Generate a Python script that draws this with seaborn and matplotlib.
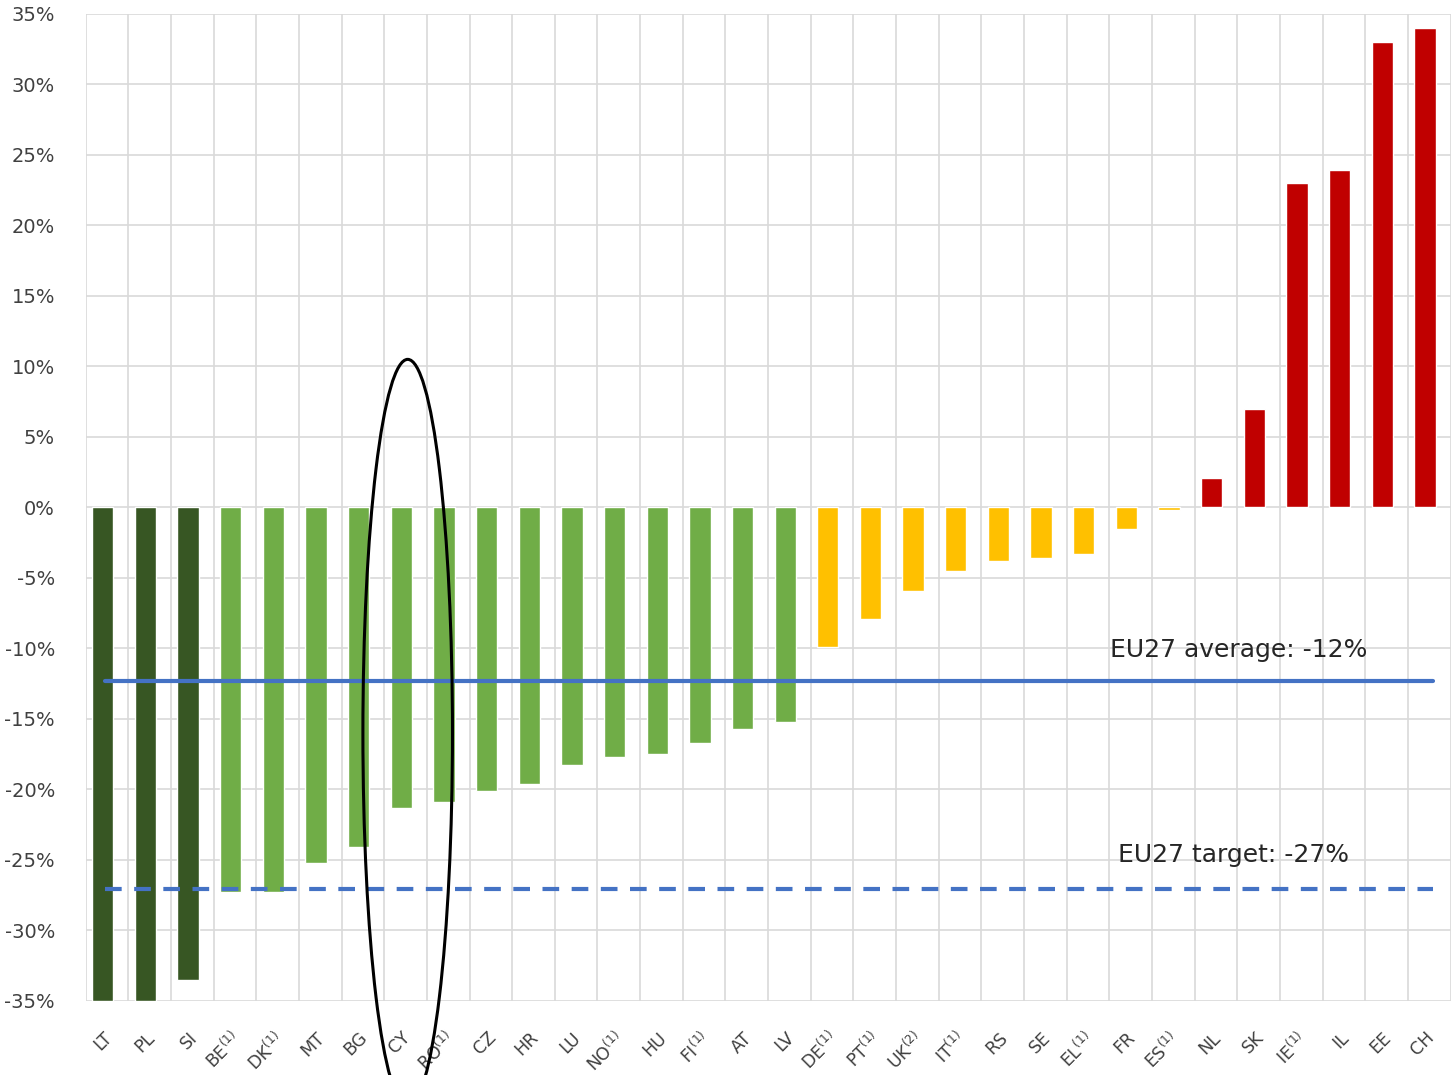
import seaborn as sns
import matplotlib.pyplot as plt
import pandas as pd
import numpy as np
from matplotlib.patches import Ellipse

# country codes (superscripts mark footnotes)
countries = ["LT", "PL", "SI", r"BE$^{(1)}$", r"DK$^{(1)}$", "MT", "BG", "CY",
             r"RO$^{(1)}$", "CZ", "HR", "LU", r"NO$^{(1)}$", "HU", r"FI$^{(1)}$",
             "AT", "LV", r"DE$^{(1)}$", r"PT$^{(1)}$", r"UK$^{(2)}$", r"IT$^{(1)}$",
             "RS", "SE", r"EL$^{(1)}$", "FR", r"ES$^{(1)}$", "NL", "SK",
             r"IE$^{(1)}$", "IL", "EE", "CH"]
change_pct = [-35.0, -35.0, -33.5, -27.3, -27.3, -25.2, -24.1, -21.3,
              -20.9, -20.1, -19.6, -18.3, -17.7, -17.5, -16.7,
              -15.7, -15.2, -9.9, -7.9, -5.9, -4.5,
              -3.8, -3.6, -3.3, -1.5, -0.2, 2.1, 7.0,
              23.0, 23.9, 33.0, 34.0]
group = (["best"] * 3 + ["below_avg"] * 14 + ["above_avg"] * 9 + ["increase"] * 6)
palette = {"best": "#375623", "below_avg": "#70AD47",
           "above_avg": "#FFC000", "increase": "#C00000"}

eu_average = -12.3
eu_target = -27.1

df = pd.DataFrame({"country": countries, "change": change_pct, "group": group})

sns.set_style("white")

fig = plt.figure(figsize=(14.52, 10.75), dpi=100)
ax = fig.add_axes([0.059, 0.069, 0.94, 0.918])

sns.barplot(data=df, x="country", y="change", hue="group", palette=palette,
            dodge=False, width=0.5, legend=False, ax=ax, saturation=1)

# grid
ax.set_ylim(-35, 35)
ax.set_xlim(-0.4, len(countries) - 0.4)
ax.set_yticks(np.arange(-35, 36, 5))
ax.set_yticklabels([f"{v}%" for v in np.arange(-35, 36, 5)])
for v in np.arange(-35, 36, 5):
    ax.axhline(v, color="#d9d9d9", lw=1.2, zorder=0)
for i in range(len(countries) + 1):
    ax.axvline(i - 0.4, color="#d9d9d9", lw=1.2, zorder=0)
for s in ax.spines.values():
    s.set_visible(False)

ax.set_xlabel("")
ax.set_ylabel("")
ax.tick_params(axis="y", labelsize=14, colors="#404040", length=0, pad=22)
ax.tick_params(axis="x", labelsize=12.5, colors="#404040", length=0, pad=20)
for lab in ax.get_yticklabels():
    lab.set_color("#404040")
plt.setp(ax.get_xticklabels(), rotation=45, ha="right", va="top",
         rotation_mode="anchor")

# EU27 reference lines
ax.axhline(eu_average, xmin=0.014, xmax=0.987, color="#4472C4", lw=3, zorder=3)
ax.axhline(eu_target, xmin=0.014, xmax=0.987, color="#4472C4", lw=3,
           ls=(0, (4, 3)), zorder=3)
ax.text(23.62, eu_average + 1.3, "EU27 average: -12%", fontsize=18,
        color="#262626", va="bottom", ha="left")
ax.text(23.8, eu_target + 1.6, "EU27 target: -27%", fontsize=18,
        color="#262626", va="bottom", ha="left")

# highlight CY
ell = Ellipse((7.15, -16.0), width=2.1, height=53.0, angle=0,
              fill=False, edgecolor="black", lw=2.2, clip_on=False, zorder=5)
ax.add_patch(ell)

plt.savefig("out.png", dpi=100)
